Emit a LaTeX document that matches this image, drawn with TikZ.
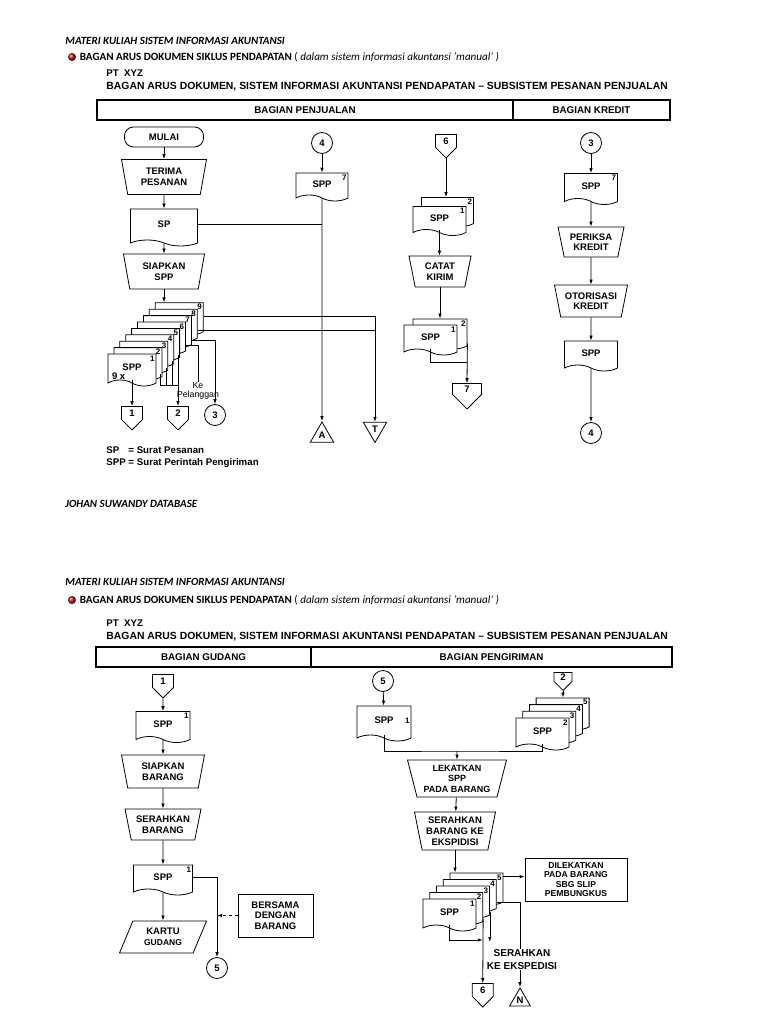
\documentclass[tikz,border=0pt]{standalone}
\usepackage{fontspec}
\setmainfont{Liberation Sans}
\newfontfamily\califont{Carlito}
\usepackage{tikz}
\usetikzlibrary{arrows.meta, positioning, shapes.geometric, shapes.symbols}
\definecolor{bulletred}{RGB}{165,20,25}

\begin{document}
\begin{tikzpicture}[x=1pt, y=-1pt, line width=0.8pt,
    every node/.style={font=\fontsize{9.5}{10.5}\selectfont\bfseries, align=center},
    lane/.style={rectangle, draw, line width=1.2pt, minimum height=20, inner sep=0, font=\fontsize{9.8}{11}\selectfont\bfseries},
    mulaibox/.style={rectangle, draw, rounded corners=9, minimum width=79, minimum height=20, inner sep=0},
    manual/.style={trapezium, shape border rotate=180, trapezium stretches body, trapezium left angle=72, trapezium right angle=72, draw, fill=white, minimum width=#1, minimum height=35, inner sep=1},
    doc/.style={tape, tape bend top=none, tape bend bottom=out and in, tape bend height=6, draw, fill=white, minimum width=#1, minimum height=31, inner sep=1},
    doc/.default=53,
    offpage/.style={signal, signal to=south, signal from=nowhere, draw, fill=white, minimum width=21, minimum height=16, inner sep=0.5},
    conn/.style={circle, draw, fill=white, minimum size=21, inner sep=0},
    arsip/.style={regular polygon, regular polygon sides=3, draw, fill=white, minimum size=27, inner sep=0},
    kartu/.style={trapezium, trapezium left angle=55, trapezium right angle=125, trapezium stretches body, draw, fill=white, minimum width=87, minimum height=32, inner sep=1},
    num/.style={font=\fontsize{8}{8}\selectfont\bfseries, inner sep=1.5, anchor=north east},
    arr/.style={-{Latex[length=5pt, width=3.5pt]}},
    plain/.style={font=\fontsize{9.7}{11}\selectfont\bfseries, anchor=west, align=left, inner sep=0},
    ttl/.style={plain, font=\fontsize{10.4}{12}\selectfont\bfseries},
    hdr/.style={font=\califont\fontsize{11}{13}\selectfont\bfseries\itshape, anchor=west, inner sep=0},
    bull/.style={font=\califont\fontsize{11.1}{13}\selectfont\bfseries, anchor=west, inner sep=0},
    dot/.style={circle, ball color=bulletred, minimum size=8, inner sep=0}
]
\useasboundingbox (0,0) rectangle (768,1024);

% ---------- sheet 1 : penjualan & kredit ----------
\node[hdr] (mk1) at (65,41) {MATERI KULIAH SISTEM INFORMASI AKUNTANSI};
\node[dot] (bul1) at (72,57) {};
\node[bull, right=3pt of bul1] (bg1) {BAGAN ARUS DOKUMEN SIKLUS PENDAPATAN {\mdseries ( \itshape dalam sistem informasi akuntansi ‘manual’\/ )}};
\node[plain] (pt1) at (106,73) {PT\ \ XYZ};
\node[ttl] (ttl1) at (106,87) {BAGAN ARUS DOKUMEN, SISTEM INFORMASI AKUNTANSI PENDAPATAN – SUBSISTEM PESANAN PENJUALAN};
\node[lane, minimum width=416] (lanejual) at (305,110) {BAGIAN PENJUALAN};
\node[lane, minimum width=157] (lanekred) at (591.5,110) {BAGIAN KREDIT};

\node[mulaibox] (mulai) at (164,137) {MULAI};
\node[manual=85] (terima) at (164,177) {TERIMA\\PESANAN};
\node[doc=67, minimum height=37] (sp) at (164,224.5) {SP};
\node[manual=81] (siapkan) at (164,271.5) {SIAPKAN\\SPP};
\foreach \k in {9,...,2}
  \node[doc=48, minimum height=32, label={[num]north east:\k}] (cp\k) at ({132+5.9*(\k-1)},{367-6.4*(\k-1)}) {};
\node[doc=48, minimum height=32, label={[num]north east:1}, label={[anchor=west, xshift=4pt, yshift=-9pt, inner sep=0]west:9 x}] (cp1) at (132,367) {SPP};
\draw[arr] (mulai) -- (terima);
\draw[arr] (terima) -- (sp);
\draw[arr] (sp) -- (siapkan);
\draw[arr] (siapkan.south) -- (siapkan.south |- cp9.north);

\node[offpage] (op1) at (132,413) {1};
\node[offpage] (op2) at (178,413) {2};
\coordinate (hub2) at (178,385);
\draw[arr] (cp1.south) -- (op1.north);
\foreach \k in {2,...,5}
  \draw ([xshift=-2pt]cp\k.south east) -- ([xshift=-2pt]cp\k.south east |- hub2);
\draw ([xshift=-2pt]cp2.south east |- hub2) -- (hub2);
\draw[arr] (hub2) -- (op2.north);
\node[font=\fontsize{8.8}{9.5}\selectfont, inner sep=0] (kep) at (198,391) {Ke\\Pelanggan};
\draw (cp6.east |- 0,345) -| (kep.north);
\node[conn] (c3a) at (215,415) {3};
\draw[arr] (cp7.east |- 0,340) -| (c3a.north);
\node[arsip, shape border rotate=180] (arT) at (375,429) {T};
\draw (cp8.east |- 0,330) -- (arT.north |- 0,330);
\draw[arr] (cp9.east |- 0,316) -| (arT.north);

\node[conn] (c4a) at (322,143) {4};
\node[doc=52, minimum height=28, label={[num]north east:7}] (spp7) at (322,184) {SPP};
\node[arsip] (arA) at (322,435.5) {A};
\draw[arr] (c4a) -- (spp7);
\draw[arr] (spp7) -- (arA);
\draw (sp.east) -- (sp.east -| spp7.south);

\node[offpage] (op6) at (446,141) {6};
\node[doc=52, minimum height=29, label={[num]north east:2}] (s6b) at (447.5,209) {};
\node[doc=53, minimum height=29, label={[num]north east:1}] (s6a) at (439.5,218) {SPP};
\node[manual=62, minimum height=31] (catat) at (440,271.5) {CATAT\\KIRIM};
\node[doc=54, minimum height=30, label={[num]north east:2}] (s7b) at (440,331) {};
\node[doc=53, minimum height=30, label={[num]north east:1}] (s7a) at (430.5,337) {SPP};
\node[offpage, minimum width=29, minimum height=14] (op7) at (467,389) {7};
\draw[arr] (op6.south) -- (op6.south |- s6b.north);
\draw[arr] (s6a.south) -- (s6a.south |- catat.north);
\draw[arr] (catat.south) -- (catat.south |- s7b.north);
\draw (s7a.south) |- (op7.north |- 0,362);
\draw[arr] (s7b.south east) -- (op7.north);

\node[conn] (c3b) at (591,143) {3};
\node[doc=53, minimum height=31, label={[num]north east:7}] (sppk) at (591,186) {SPP};
\node[manual=66, minimum height=30] (periksa) at (591,242) {PERIKSA\\KREDIT};
\node[manual=73, minimum height=32] (otor) at (591,301) {OTORISASI\\KREDIT};
\node[doc=53, minimum height=30] (sppo) at (591,353) {SPP};
\node[conn] (c4b) at (591,433) {4};
\draw[arr] (c3b) -- (sppk);
\draw[arr] (sppk) -- (periksa);
\draw[arr] (periksa) -- (otor);
\draw[arr] (otor) -- (sppo);
\draw[arr] (sppo) -- (c4b);

\node[plain] (leg1) at (106,450) {\makebox[22pt][l]{SP}= Surat Pesanan};
\node[plain] (leg2) at (106,463) {SPP = Surat Perintah Pengiriman};
\node[hdr] (foot) at (65,504) {JOHAN SUWANDY DATABASE};

% ---------- sheet 2 : gudang & pengiriman ----------
\node[hdr] (mk2) at (65,582) {MATERI KULIAH SISTEM INFORMASI AKUNTANSI};
\node[dot] (bul2) at (72,600) {};
\node[bull, right=3pt of bul2] (bg2) {BAGAN ARUS DOKUMEN SIKLUS PENDAPATAN {\mdseries ( \itshape dalam sistem informasi akuntansi ‘manual’\/ )}};
\node[plain] (pt2) at (106,623) {PT\ \ XYZ};
\node[ttl] (ttl2) at (106,637) {BAGAN ARUS DOKUMEN, SISTEM INFORMASI AKUNTANSI PENDAPATAN – SUBSISTEM PESANAN PENJUALAN};
\node[lane, minimum width=215] (lanegud) at (203.5,657) {BAGIAN GUDANG};
\node[lane, minimum width=361] (lanekirim) at (491.5,657) {BAGIAN PENGIRIMAN};

\node[offpage] (op1b) at (163,681) {1};
\node[doc=54, minimum height=31, label={[num]north east:1}] (sppg) at (163,724) {SPP};
\node[manual=83, minimum height=33] (siapbrg) at (163,771.5) {SIAPKAN\\BARANG};
\node[manual=76, minimum height=31] (serahbrg) at (163,824.5) {SERAHKAN\\BARANG};
\node[doc=59, minimum height=30, label={[num]north east:1}] (sppg2) at (163,877) {SPP};
\node[kartu] (kartu) at (163,937) {KARTU\\{\fontsize{8.5}{9}\selectfont GUDANG}};
\node[conn] (c5a) at (217,968) {5};
\node[rectangle, draw, minimum width=75, minimum height=43] (bersama) at (275.5,915.5) {BERSAMA\\DENGAN\\BARANG};
\draw[arr] (op1b) -- (sppg);
\draw[arr] (sppg) -- (siapbrg);
\draw[arr] (siapbrg) -- (serahbrg);
\draw[arr] (serahbrg) -- (sppg2);
\draw[arr] (sppg2) -- (kartu);
\draw[arr] (sppg2.east) -| (c5a.north);
\draw[arr, dashed] (bersama.west) -- (bersama.west -| c5a.north);

\node[conn] (c5b) at (383,681) {5};
\node[doc=54, minimum height=35, label={[num, anchor=east]east:1}] (sppk1) at (384,720.5) {SPP};
\node[offpage, minimum width=18, minimum height=12] (op2b) at (563,677) {2};
\foreach \k in {5,...,3}
  \node[doc=53, minimum height=32, label={[num]north east:\k}] (cq\k) at ({542.5+6.7*(\k-2)},{731-6.7*(\k-2)}) {};
\node[doc=53, minimum height=32, label={[num]north east:2}] (cq2) at (542.5,731) {SPP};
\coordinate (mrg) at (457,751);
\node[manual=99, minimum height=37, font=\fontsize{9}{10.5}\selectfont\bfseries] (lekat) at (457,778.5) {LEKATKAN\\SPP\\PADA BARANG};
\node[manual=81, minimum height=38, trapezium left angle=76, trapezium right angle=76, font=\fontsize{9.5}{11}\selectfont\bfseries] (serahke) at (455,831) {SERAHKAN\\BARANG KE\\EKSPIDISI};
\draw[arr] (c5b) -- (sppk1);
\draw[arr] (op2b.south) -- (op2b.south |- cq5.north);
\draw (sppk1.south) |- (mrg) -| (cq2.south);
\draw[arr] (mrg) -- (lekat.north);
\draw[arr] (lekat) -- (serahke);

\foreach \k in {5,...,2}
  \node[doc=53, minimum height=32, label={[num]north east:\k}] (cr\k) at ({449.5+6.75*(\k-1)},{912-6.5*(\k-1)}) {};
\node[doc=53, minimum height=32, label={[num]north east:1}] (cr1) at (449.5,912) {SPP};
\draw[arr] (serahke.south) -- (serahke.south |- cr5.north);
\node[rectangle, draw, minimum width=102, minimum height=43, inner sep=1, font=\fontsize{8.6}{9.3}\selectfont\bfseries] (dilekat) at (576,879.5) {DILEKATKAN\\PADA BARANG\\SBG SLIP\\PEMBUNGKUS};
\draw[arr] ([yshift=-4pt]cr5.north east) -- ([yshift=-4pt]cr5.north east -| dilekat.west);
\node[arsip, minimum size=24] (arN) at (520,1000) {N};
\draw[arr] (cr4.east |- 0,902) -| (arN.north);
\coordinate (ek) at (489.5,942);
\draw[arr] (cr3.south east) -- (cr3.south east |- ek);
\node[offpage] (op6b) at (482.75,990) {6};
\draw[arr] (cr2.south east) -- (op6b.north);
\draw[arr] (cr1.south) |- (op6b.north |- 0,940);
\node[fill=white, inner sep=1, font=\fontsize{10}{12.5}\selectfont\bfseries] (serahtxt) at (522,959.5) {SERAHKAN\\KE EKSPEDISI};
\end{tikzpicture}
\end{document}
